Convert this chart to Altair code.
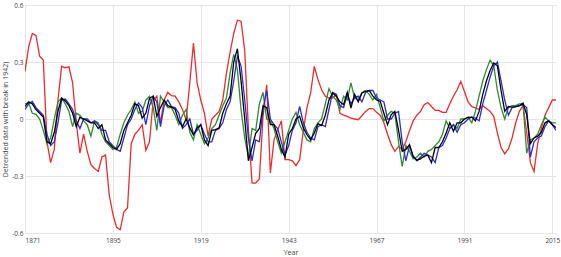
import altair as alt
import pandas as pd

years = list(range(1871, 2017))

red = [
    0.25, 0.38, 0.45, 0.44, 0.33, 0.31, -0.12, -0.23, -0.16, 0.10,
    0.277, 0.27, 0.275, 0.19, -0.02, -0.18, -0.08, -0.17, -0.24, -0.26,
    -0.276, -0.20, -0.19, -0.40, -0.50, -0.57, -0.583, -0.49, -0.467, -0.13,
    -0.08, -0.06, -0.03, -0.165, -0.12, 0.10, 0.12, -0.02, 0.10, 0.14,
    0.123, 0.12, 0.09, 0.05, -0.004, 0.19, 0.40, 0.19, 0.10, 0.03,
    -0.09, 0.00, 0.02, 0.04, 0.10, 0.24, 0.35, 0.45, 0.52, 0.515,
    0.36, -0.05, -0.337, -0.337, -0.316, 0.014, 0.18, -0.284, -0.11, -0.056,
    -0.01, -0.214, -0.214, -0.22, -0.245, -0.214, -0.06, 0.06, 0.137, 0.277,
    0.207, 0.154, 0.12, 0.11, 0.11, 0.128, 0.03, 0.02, 0.014, 0.005,
    0.00, -0.004, 0.017, 0.04, 0.055, 0.055, 0.035, 0.02, -0.02, -0.08,
    -0.135, -0.17, -0.144, -0.16, -0.12, -0.06, -0.01, 0.02, 0.04, 0.075,
    0.087, 0.066, 0.045, 0.045, 0.035, 0.035, 0.08, 0.12, 0.154, 0.198,
    0.145, 0.09, 0.065, 0.058, 0.05, 0.07, 0.055, 0.04, 0.014, -0.074,
    -0.15, -0.183, -0.158, -0.10, -0.02, 0.04, 0.07, -0.07, -0.23, -0.276,
    -0.13, -0.05, 0.02, 0.06, 0.10, 0.10,
]

green = [
    0.08, 0.085, 0.03, 0.025, 0.00, -0.06, -0.13, -0.10, 0.00, 0.09,
    0.11, 0.08, 0.04, -0.04, 0.03, 0.02, -0.01, -0.03, -0.09, -0.01,
    -0.02, -0.08, -0.12, -0.14, -0.16, -0.15, -0.08, -0.02, 0.02, 0.05,
    0.09, 0.03, 0.04, 0.10, 0.12, 0.06, -0.06, 0.12, 0.09, 0.06,
    0.06, 0.02, -0.03, 0.02, 0.05, -0.07, -0.11, -0.03, -0.08, -0.13,
    -0.10, -0.05, -0.03, 0.02, 0.07, 0.11, 0.24, 0.34, 0.26, 0.05,
    -0.10, -0.20, -0.05, -0.06, 0.08, 0.14, 0.00, -0.01, -0.05, -0.12,
    -0.18, -0.12, -0.06, 0.00, 0.035, -0.03, -0.07, -0.11, -0.12, -0.05,
    -0.02, 0.00, 0.08, 0.16, 0.12, 0.10, 0.05, 0.12, 0.10, 0.19,
    0.11, 0.10, 0.14, 0.15, 0.13, 0.10, 0.13, 0.06, -0.01, 0.02,
    0.04, 0.03, -0.12, -0.25, -0.14, -0.17, -0.21, -0.20, -0.18, -0.20,
    -0.17, -0.16, -0.14, -0.12, -0.08, -0.01, -0.05, -0.03, -0.05, 0.00,
    0.00, 0.01, -0.02, 0.04, 0.12, 0.20, 0.26, 0.31, 0.28, 0.15,
    0.06, 0.00, 0.06, 0.07, 0.07, 0.08, 0.08, -0.18, -0.11, -0.10,
    -0.08, -0.03, 0.01, -0.01, -0.02, -0.02,
]

blue = [
    0.05, 0.08, 0.093, 0.06, 0.04, 0.02, -0.08, -0.14, -0.12, -0.02,
    0.10, 0.105, 0.08, 0.05, -0.01, -0.05, 0.00, 0.00, -0.02, -0.01,
    -0.03, -0.06, -0.06, -0.12, -0.14, -0.16, -0.17, -0.10, -0.03, 0.00,
    0.05, 0.085, 0.06, -0.03, 0.07, 0.12, 0.09, -0.04, 0.07, 0.10,
    0.065, 0.06, 0.03, -0.05, -0.03, 0.00, -0.08, -0.06, -0.03, -0.08,
    -0.12, -0.12, -0.06, -0.05, -0.02, 0.05, 0.09, 0.20, 0.33, 0.28,
    0.10, -0.10, -0.22, -0.11, -0.12, 0.05, 0.15, 0.00, -0.03, -0.05,
    -0.12, -0.19, -0.14, -0.06, -0.02, 0.066, -0.02, -0.07, -0.10, -0.11,
    -0.04, -0.03, -0.04, 0.05, 0.14, 0.13, 0.07, 0.06, 0.13, 0.08,
    0.11, 0.12, 0.09, 0.14, 0.15, 0.15, 0.11, 0.10, 0.09, 0.00,
    0.00, 0.03, 0.04, -0.12, -0.22, -0.14, -0.20, -0.22, -0.20, -0.18,
    -0.19, -0.20, -0.23, -0.15, -0.14, -0.10, -0.05, -0.03, -0.07, -0.03,
    -0.02, 0.00, 0.01, 0.005, -0.01, 0.08, 0.15, 0.22, 0.28, 0.30,
    0.20, 0.10, 0.02, 0.06, 0.065, 0.07, 0.075, 0.06, -0.20, -0.12,
    -0.10, -0.09, -0.04, -0.01, -0.03, -0.06,
]

black = [
    0.066, 0.09, 0.08, 0.05, 0.03, 0.01, -0.12, -0.13, -0.07, 0.04,
    0.11, 0.095, 0.07, 0.03, -0.04, 0.01, 0.00, -0.01, -0.02, -0.02,
    -0.05, -0.03, -0.11, -0.13, -0.15, -0.16, -0.13, -0.06, -0.02, 0.02,
    0.08, 0.07, 0.005, 0.03, 0.11, 0.12, 0.015, 0.06, 0.10, 0.07,
    0.063, 0.05, -0.01, -0.04, 0.00, -0.047, -0.083, -0.047, -0.03, -0.11,
    -0.14, -0.06, -0.056, -0.047, 0.03, 0.08, 0.12, 0.30, 0.37, 0.20,
    0.00, -0.22, -0.15, -0.075, -0.05, 0.07, 0.06, -0.03, -0.03, -0.09,
    -0.16, -0.20, -0.08, -0.05, 0.00, 0.014, -0.047, -0.083, -0.109, -0.074,
    -0.025, -0.035, 0.02, 0.10, 0.137, 0.12, 0.09, 0.075, 0.14, 0.058,
    0.13, 0.09, 0.137, 0.145, 0.15, 0.12, 0.10, 0.093, 0.03, -0.03,
    0.023, 0.04, -0.06, -0.17, -0.16, -0.135, -0.196, -0.217, -0.21, -0.196,
    -0.19, -0.23, -0.15, -0.15, -0.12, -0.074, -0.02, -0.065, -0.02, -0.02,
    0.00, 0.008, 0.01, -0.01, 0.04, 0.13, 0.20, 0.255, 0.295, 0.28,
    0.15, 0.04, 0.066, 0.063, 0.065, 0.07, 0.084, 0.023, -0.13, -0.10,
    -0.09, -0.07, -0.02, -0.01, -0.03, -0.045,
]

x_ticks = [1871, 1895, 1919, 1943, 1967, 1991, 2015]
y_ticks = [-0.6, -0.3, 0, 0.3, 0.6]

series = [
    ("red", red, "#ee2b2b"),
    ("green", green, "#2e8b2e"),
    ("blue", blue, "#2b2bdd"),
    ("black", black, "#000000"),
]

FONT = "Open Sans"

x_axis = alt.Axis(
    values=x_ticks, format="d", title="Year", grid=True, gridColor="#e6e6e6",
    domain=False, ticks=False, labelPadding=4, labelFontSize=6.5,
    labelColor="#444444", labelFont=FONT, titleFont=FONT,
    titleFontSize=7, titleFontWeight="normal", titleColor="#444444",
    titleY=19, titleBaseline="middle",
)
y_axis = alt.Axis(
    values=y_ticks, labelExpr="'' + round(datum.value*10)/10",
    title="Detrended data with break in 1942)", grid=True, gridColor="#e6e6e6",
    domain=False, ticks=False, labelPadding=2, labelFontSize=6.5,
    labelColor="#444444", labelFont=FONT, titleFont=FONT,
    titleFontSize=7, titleFontWeight="normal", titleColor="#444444",
    titleX=-20, titleY=114, titleAngle=-90, titleAlign="center",
    titleBaseline="middle",
)

x_scale = alt.Scale(domain=[1871, 2016], nice=False, zero=False)
y_scale = alt.Scale(domain=[-0.6, 0.6], nice=False)

layers = []
for name, vals, col in series:
    df = pd.DataFrame({"Year": years, "value": vals})
    layers.append(
        alt.Chart(df).mark_line(color=col, strokeWidth=1.3, clip=True).encode(
            x=alt.X("Year:Q", scale=x_scale, axis=x_axis),
            y=alt.Y("value:Q", scale=y_scale, axis=y_axis),
        )
    )

chart = alt.layer(*layers).properties(
    width=531, height=228,
    padding={"left": 25, "top": 5, "right": 5, "bottom": 24},
    autosize=alt.AutoSizeParams(type="none"),
    background="white",
).configure_view(stroke=None)

chart.save("out.html", embed_options={"renderer": "svg", "actions": False})
